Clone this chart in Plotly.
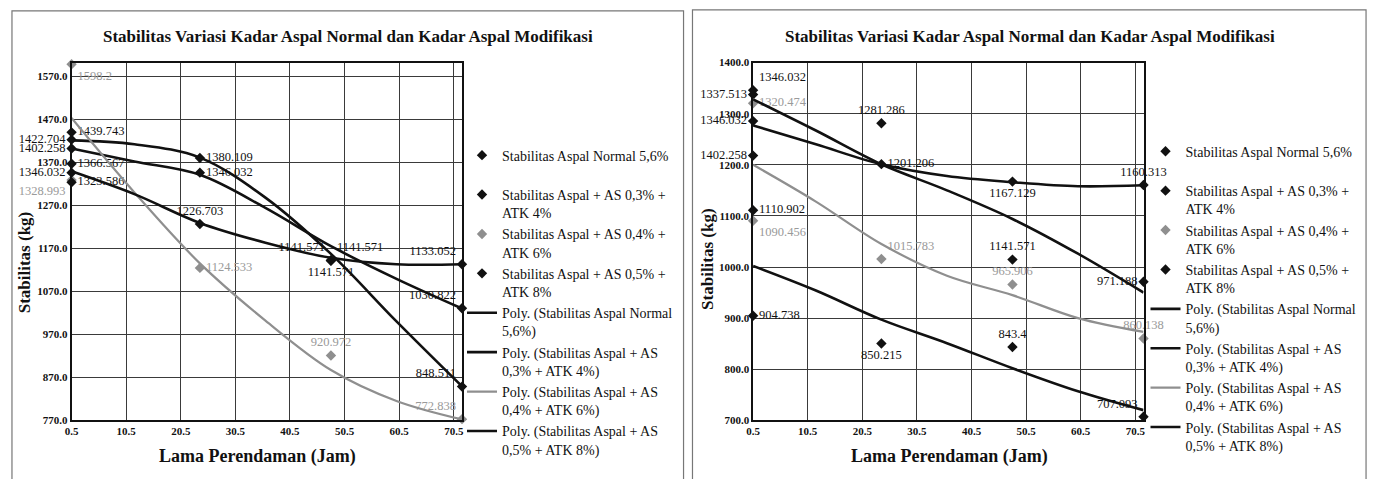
import plotly.graph_objects as go

W, H = 1375, 479

# ---------------- DATA ----------------
NAMES = [
    "Stabilitas Aspal Normal 5,6%<br> ",
    "Stabilitas Aspal + AS 0,3% +<br>ATK 4%",
    "Stabilitas Aspal + AS 0,4% +<br>ATK 6%",
    "Stabilitas Aspal + AS 0,5% +<br>ATK 8%",
]
POLY_NAMES = [
    "Poly. (Stabilitas Aspal Normal<br>5,6%)",
    "Poly. (Stabilitas Aspal + AS<br>0,3% + ATK 4%)",
    "Poly. (Stabilitas Aspal + AS<br>0,4% + ATK 6%)",
    "Poly. (Stabilitas Aspal + AS<br>0,5% + ATK 8%)",
]

# Left chart - measured points
L_NORMAL_X = [0.5, 0.5, 24, 48, 72]
L_NORMAL_Y = [1422.704, 1439.743, 1380.109, 1141.571, 848.511]
L_NORMAL_TXT = ["1422.704", "1439.743", "1380.109", "1141.571", "848.511"]

L_AS03_X = [0.5, 24, 48, 72]
L_AS03_Y = [1402.258, 1346.032, 1141.571, 1030.822]
L_AS03_TXT = ["1402.258", "1346.032", "1141.571", "1030.822"]

L_AS04_X = [0.5, 0.5, 24, 48, 72]
L_AS04_Y = [1598.2, 1328.993, 1124.533, 920.972, 772.838]
L_AS04_TXT = ["1598.2", "1328.993", "1124.533", "920.972", "772.838"]

L_AS05_X = [0.5, 0.5, 0.5, 24, 48, 72]
L_AS05_Y = [1346.032, 1366.567, 1323.586, 1226.703, 1141.571, 1133.052]
L_AS05_TXT = ["1346.032", "1366.567", "1323.586", "1226.703", "1141.571", "1133.052"]

# Left chart - polynomial trend lines
TREND_X = [0.5, 12, 24, 36, 48, 60, 72]
L_TREND_NORMAL = [1421, 1412, 1381, 1288, 1157, 1000, 849]
L_TREND_AS03 = [1402, 1372, 1341, 1264, 1175, 1099, 1030]
L_TREND_AS04 = [1473, 1300, 1135, 1002, 887, 815, 772]
L_TREND_AS05 = [1349, 1296, 1229, 1183, 1148, 1133, 1133]

# Right chart - measured points
R_NORMAL_X = [0.5, 0.5, 24, 48, 72]
R_NORMAL_Y = [1285.5, 1218.0, 1201.206, 1167.129, 1160.313]
R_NORMAL_TXT = ["1346.032", "1402.258", "1201.206", "1167.129", "1160.313"]

R_AS03_X = [0.5, 0.5, 24, 48, 72]
R_AS03_Y = [1337.513, 1346.032, 1281.286, 1014.5, 971.188]
R_AS03_TXT = ["1337.513", "1346.032", "1281.286", "1141.571", "971.188"]

R_AS04_X = [0.5, 0.5, 24, 48, 72]
R_AS04_Y = [1320.474, 1090.456, 1015.783, 965.906, 860.138]
R_AS04_TXT = ["1320.474", "1090.456", "1015.783", "965.906", "860.138"]

R_AS05_X = [0.5, 0.5, 24, 48, 72]
R_AS05_Y = [1110.902, 904.738, 850.215, 843.4, 707.093]
R_AS05_TXT = ["1110.902", "904.738", "850.215", "843.4", "707.093"]

# Right chart - polynomial trend lines
R_TREND_NORMAL = [1277, 1240, 1201, 1178, 1166, 1158, 1160]
R_TREND_AS03 = [1328, 1267, 1201, 1150, 1094, 1026, 950]
R_TREND_AS04 = [1200, 1128, 1045, 983, 945, 900, 873]
R_TREND_AS05 = [1002, 954, 897, 851, 802, 757, 720]

TITLE = "Stabilitas Variasi Kadar Aspal Normal dan Kadar Aspal Modifikasi"
X_TITLE = "Lama Perendaman (Jam)"
Y_TITLE = "Stabilitas (kg)"

# ---------------- STYLE ----------------
FONT = "Liberation Serif"
BLACK = "#111111"
GRAY = "#8f8f8f"
COLORS = [BLACK, BLACK, GRAY, BLACK]

L_POS = [
    ["middle left", "middle right", "middle right", "top right", "top left"],
    ["middle left", "middle right", "top left", "top left"],
    ["bottom right", "bottom left", "middle right", "top center", "top left"],
    ["middle left", "middle right", "middle right", "top center", "bottom center", "top left"],
]
R_POS = [
    ["middle left", "middle left", "middle right", "bottom center", "top center"],
    ["middle left", "top right", "top center", "top center", "middle left"],
    ["middle right", "bottom right", "top right", "top center", "top center"],
    ["middle right", "middle right", "bottom center", "top center", "top left"],
]

fig = go.Figure()

def add_chart(xa, ya, legend, pts, trends, positions):
    for i, (x, y, t) in enumerate(pts):
        fig.add_trace(go.Scatter(
            x=x, y=y, text=t, mode="markers+text", name=NAMES[i],
            xaxis=xa, yaxis=ya, legend=legend, cliponaxis=False,
            marker=dict(symbol="diamond", size=8, color=COLORS[i]),
            textposition=positions[i],
            textfont=dict(family=FONT, size=12.5, color=COLORS[i] if i != 2 else "#9a9a9a"),
            hoverinfo="x+y",
        ))
    for i, tr in enumerate(trends):
        fig.add_trace(go.Scatter(
            x=TREND_X, y=tr, mode="lines", name=POLY_NAMES[i],
            xaxis=xa, yaxis=ya, legend=legend,
            line=dict(color=COLORS[i], width=2.6 if i != 2 else 2.2,
                      shape="spline", smoothing=1.0),
        ))

add_chart("x", "y", "legend",
          [(L_NORMAL_X, L_NORMAL_Y, L_NORMAL_TXT), (L_AS03_X, L_AS03_Y, L_AS03_TXT),
           (L_AS04_X, L_AS04_Y, L_AS04_TXT), (L_AS05_X, L_AS05_Y, L_AS05_TXT)],
          [L_TREND_NORMAL, L_TREND_AS03, L_TREND_AS04, L_TREND_AS05], L_POS)
add_chart("x2", "y2", "legend2",
          [(R_NORMAL_X, R_NORMAL_Y, R_NORMAL_TXT), (R_AS03_X, R_AS03_Y, R_AS03_TXT),
           (R_AS04_X, R_AS04_Y, R_AS04_TXT), (R_AS05_X, R_AS05_Y, R_AS05_TXT)],
          [R_TREND_NORMAL, R_TREND_AS03, R_TREND_AS04, R_TREND_AS05], R_POS)

def px(v):
    return v / W

def py(v):
    return 1 - v / H

tickfont = dict(family=FONT, size=11, color="#111", weight="bold")
common_x = dict(range=[0.5, 72], tick0=0.5, dtick=10, tickformat=".1f",
                showgrid=True, gridcolor="#3a3a3a", gridwidth=1,
                showline=True, mirror=True, linecolor="#111", linewidth=1.5,
                zeroline=False, ticks="", tickfont=tickfont, fixedrange=True)
common_y = dict(tickformat=".1f", dtick=100,
                showgrid=True, gridcolor="#3a3a3a", gridwidth=1,
                showline=True, mirror=True, linecolor="#111", linewidth=1.5,
                zeroline=False, ticks="", tickfont=tickfont, fixedrange=True)

ydom = [py(425), py(58)]
legend_common = dict(font=dict(family=FONT, size=14, color="#111"), valign="top",
                     bgcolor="rgba(0,0,0,0)", borderwidth=0, xanchor="left",
                     yanchor="top", tracegroupgap=0, itemclick=False)

fig.update_layout(
    width=W, height=H,
    margin=dict(l=0, r=0, t=0, b=0),
    paper_bgcolor="white", plot_bgcolor="white",
    xaxis=dict(domain=[px(65), px(458)], anchor="y", **common_x),
    yaxis=dict(domain=ydom, anchor="x", range=[770, 1602], tick0=770, **common_y),
    xaxis2=dict(domain=[px(751), px(1144)], anchor="y2", **common_x),
    yaxis2=dict(domain=ydom, anchor="x2", range=[700, 1400], tick0=700, **common_y),
    legend=dict(x=px(458), y=py(137), **legend_common),
    legend2=dict(x=px(1146), y=py(133), **legend_common),
    showlegend=True,
    shapes=[
        dict(type="rect", xref="paper", yref="paper", x0=px(5), x1=px(681),
             y0=py(490), y1=py(5), line=dict(color="#777", width=1.2)),
        dict(type="rect", xref="paper", yref="paper", x0=px(690), x1=px(1368),
             y0=py(490), y1=py(4), line=dict(color="#777", width=1.2)),
    ],
)

ann = []
for cx in (343, 1030):
    ann.append(dict(text="<b>" + TITLE + "</b>", x=px(cx), y=py(31), xref="paper",
                    yref="paper", showarrow=False, xanchor="center", yanchor="middle",
                    font=dict(family=FONT, size=17, color="#111")))
for cx in (252, 949):
    ann.append(dict(text="<b>" + X_TITLE + "</b>", x=px(cx), y=py(462), xref="paper",
                    yref="paper", showarrow=False, xanchor="center", yanchor="middle",
                    font=dict(family=FONT, size=18, color="#111")))
for cx, cy in ((18, 263), (705, 259)):
    ann.append(dict(text="<b>" + Y_TITLE + "</b>", x=px(cx), y=py(cy), xref="paper",
                    yref="paper", showarrow=False, xanchor="center", yanchor="middle",
                    textangle=-90, font=dict(family=FONT, size=17, color="#111")))
fig.update_layout(annotations=ann)

fig.write_html("out.html")
